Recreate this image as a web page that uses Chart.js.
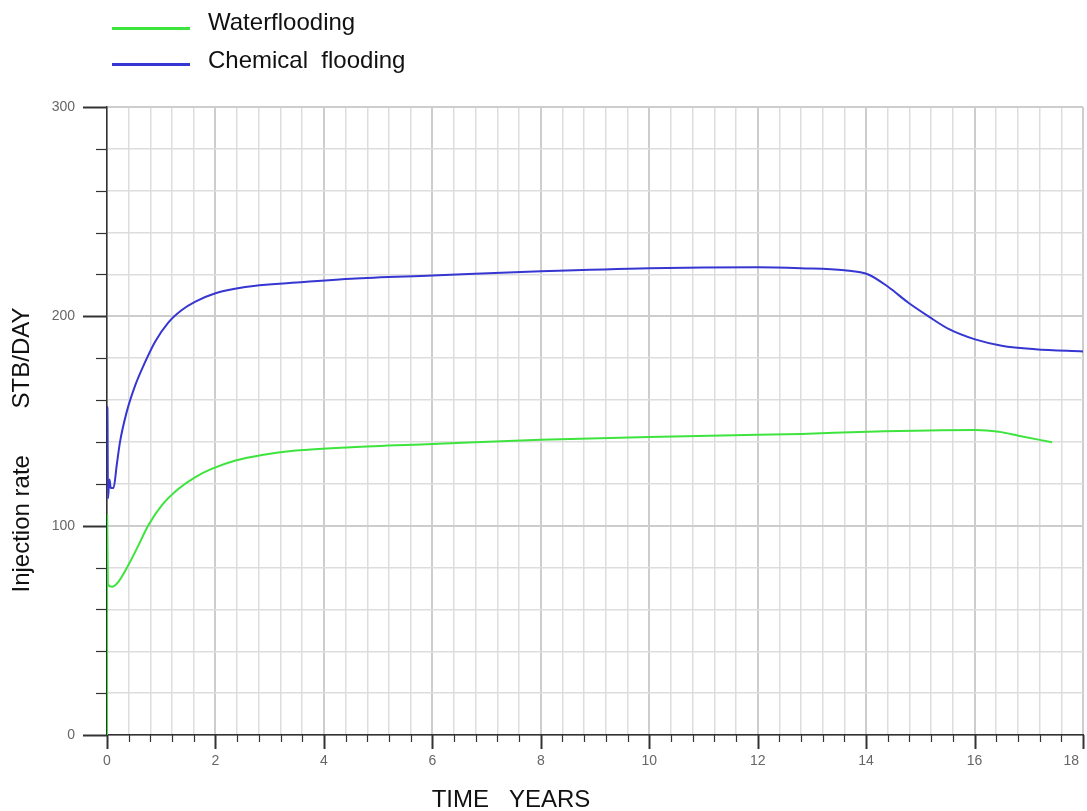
<!DOCTYPE html>
<html>
<head>
<meta charset="utf-8">
<script src="https://cdn.jsdelivr.net/npm/chart.js@4.4.1/dist/chart.umd.min.js"></script>
<style>
  html, body { margin: 0; padding: 0; background: #fff; }
  #wrap { position: relative; width: 1087px; height: 811px; }
  .lg-line { position: absolute; left: 112px; width: 78px; height: 3px; }
  .lg-text { position: absolute; left: 208px; font: 24px "Liberation Sans", Arial, sans-serif; color: #111; line-height: 28px; white-space: pre; }
</style>
</head>
<body>
<div id="wrap">
  <canvas id="chart" width="1087" height="811"></canvas>
  <div class="lg-line" id="lgWater" style="top:27px"></div>
  <div class="lg-text" style="top:8px">Waterflooding</div>
  <div class="lg-line" id="lgChem" style="top:63px"></div>
  <div class="lg-text" style="top:46px">Chemical  flooding</div>
</div>
<script>
const GREEN = '#3ee43e';
const BLUE = '#3636d2';

const xTitle = 'TIME   YEARS';
const yTitle = 'Injection rate       STB/DAY';

// Waterflooding (years, STB/DAY)
const waterTime = [0, 0.004, 0.015, 0.09, 0.21, 0.39, 0.58, 0.76, 1.01, 1.32, 1.63, 1.93, 2.37, 2.86, 3.48, 4.5, 6.0, 8.0, 10.0, 12.0, 12.81, 14.04, 16.01, 16.45, 16.81, 17.43];
const waterRate = [0, 105, 72, 70.8, 73.2, 81, 90.6, 100.1, 109.7, 117.6, 123.2, 127.1, 131.1, 133.8, 135.9, 137.5, 139, 141, 142.4, 143.4, 143.8, 144.9, 145.7, 144.9, 143, 139.8];

// Chemical flooding (years, STB/DAY)
const chemTime = [0, 0.008, 0.018, 0.045, 0.07, 0.12, 0.18, 0.24, 0.36, 0.52, 0.70, 0.89, 1.13, 1.38, 1.63, 2.0, 2.55, 3.41, 4.5, 6.0, 8.0, 10.0, 12.0, 12.8, 13.6, 14.04, 14.41, 14.78, 15.15, 15.52, 16.01, 16.5, 17.12, 18.0];
const chemRate = [157, 156, 113, 122, 118, 118, 129, 140, 154, 167, 178, 188, 197, 203, 207, 211, 214, 216, 218, 219.5, 221.5, 223, 223.5, 223, 222, 220, 214, 206.5, 200, 194, 189, 186, 184.3, 183.2];

document.getElementById('lgWater').style.background = GREEN;
document.getElementById('lgChem').style.background = BLUE;

const toPoints = (xs, ys) => xs.map((t, i) => ({ x: t, y: ys[i] }));
const isEven = v => Math.abs(v / 2 - Math.round(v / 2)) < 1e-6;

// ticks outside the plot and the axis titles
const axisDecor = {
  id: 'axisDecor',
  afterDraw(chart) {
    const { ctx, chartArea: a, scales: { x, y } } = chart;
    ctx.save();
    ctx.strokeStyle = '#333';
    for (let v = 0; v <= 300; v += 20) {
      const major = v % 100 === 0;
      const py = Math.round(y.getPixelForValue(v)) + 0.5;
      ctx.lineWidth = major ? 2 : 1.2;
      ctx.beginPath();
      ctx.moveTo(a.left - (major ? 24 : 11), py);
      ctx.lineTo(a.left, py);
      ctx.stroke();
    }
    for (let i = 0; i <= 45; i++) {
      const major = i % 5 === 0;
      const px = Math.round(x.getPixelForValue(i * 0.4)) + 0.5;
      ctx.lineWidth = major ? 2 : 1.2;
      ctx.beginPath();
      ctx.moveTo(px, a.bottom);
      ctx.lineTo(px, a.bottom + (major ? 14 : 7));
      ctx.stroke();
    }
    ctx.fillStyle = '#111';
    ctx.font = '24px "Liberation Sans", Arial, sans-serif';
    ctx.textAlign = 'center';
    ctx.textBaseline = 'middle';
    ctx.fillText(xTitle, 511, 800);
    ctx.translate(22, 450);
    ctx.rotate(-Math.PI / 2);
    ctx.fillText(yTitle, 0, 0);
    ctx.restore();
  }
};

const ctx = document.getElementById('chart').getContext('2d');
const chart = new Chart(ctx, {
  type: 'line',
  data: {
    datasets: [
      {
        label: 'Waterflooding',
        data: toPoints(waterTime, waterRate),
        borderColor: GREEN,
        borderWidth: 2,
        pointRadius: 0,
        cubicInterpolationMode: 'monotone'
      },
      {
        label: 'Chemical flooding',
        data: toPoints(chemTime, chemRate),
        borderColor: BLUE,
        borderWidth: 2,
        pointRadius: 0,
        cubicInterpolationMode: 'monotone'
      }
    ]
  },
  options: {
    responsive: false,
    animation: false,
    layout: { padding: { top: 107, right: 4, left: 0, bottom: 0 } },
    plugins: {
      legend: { display: false },
      tooltip: { enabled: false }
    },
    scales: {
      x: {
        type: 'linear',
        min: 0,
        max: 18,
        afterFit: s => { s.height = 76; s.paddingLeft = 0; s.paddingRight = 0; },
        grid: {
          drawTicks: false,
          color: c => isEven(c.tick.value) ? '#cdcdcd' : '#dddddd',
          lineWidth: c => isEven(c.tick.value) ? 2 : 1.5
        },
        border: { display: true, color: '#333', width: 1.5 },
        ticks: {
          stepSize: 0.4,
          autoSkip: false,
          maxRotation: 0,
          padding: 18,
          color: '#666',
          font: { family: '"Liberation Sans", Arial, sans-serif', size: 14 },
          callback: v => {
            if (!isEven(v)) return '';
            const s = String(Math.round(v));
            return v >= 18 ? s + '      ' : s;
          }
        }
      },
      y: {
        min: 0,
        max: 300,
        afterFit: s => { s.width = 107; s.paddingTop = 0; s.paddingBottom = 0; },
        grid: {
          drawTicks: false,
          color: c => c.tick.value % 100 === 0 ? '#cdcdcd' : '#dddddd',
          lineWidth: c => c.tick.value % 100 === 0 ? 2 : 1.5
        },
        border: { display: true, color: '#333', width: 1.5 },
        ticks: {
          stepSize: 20,
          autoSkip: false,
          padding: 32,
          color: '#666',
          font: { family: '"Liberation Sans", Arial, sans-serif', size: 14 },
          callback: v => v % 100 === 0 ? String(v) : ''
        }
      }
    }
  },
  plugins: [axisDecor]
});
</script>
</body>
</html>
